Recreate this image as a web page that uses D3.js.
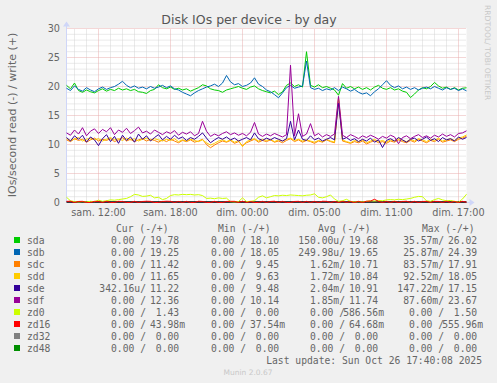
<!DOCTYPE html>
<html>
<head>
<meta charset="utf-8">
<script src="https://cdn.jsdelivr.net/npm/d3@7"></script>
<style>
body { margin: 0; background: #f0f0f0; }
svg text { font-family: "DejaVu Sans", sans-serif; fill: #666; }
svg text.mono { font-family: "DejaVu Sans Mono", monospace; white-space: pre; }
</style>
</head>
<body>
<div id="chart-area"></div>
<script>
// Series data: one sample every 20 minutes, from sam. 09:20 to dim. 17:40
let categories = ["sda", "sdb", "sdc", "sdd", "sde", "sdf", "zd0", "zd16", "zd32", "zd48"];
let colors = ["#00cc00", "#0066b3", "#ff8000", "#ffcc00", "#330099", "#990099", "#ccff00", "#ff0000", "#808080", "#008f00"];

let xTickHours = [0, 6, 12, 18, 24, 30];
let xTickLabels = ["sam. 12:00", "sam. 18:00", "dim. 00:00", "dim. 05:00", "dim. 11:00", "dim. 17:00"];
let yTicks = [0, 5, 10, 15, 20, 25, 30];

let sda = [20.2,19.6,20.6,19.3,19.0,19.4,19.1,18.9,19.3,19.6,
  19.2,19.5,19.3,19.7,19.4,19.6,19.3,19.5,19.1,19.0,
  18.8,19.3,19.5,20.3,19.8,19.6,19.9,19.5,19.7,19.4,
  19.6,19.2,19.5,19.8,20.3,20.1,19.6,19.4,19.3,19.0,
  19.4,19.6,19.8,20.0,19.7,19.5,19.9,20.1,19.6,19.3,
  19.1,18.9,19.2,18.6,19.1,20.2,20.6,20.0,20.3,19.9,
  26.0,20.2,19.9,20.3,19.8,20.0,19.7,19.4,18.5,20.5,
  19.7,20.0,19.6,19.9,19.5,19.8,19.4,19.9,20.2,19.7,
  19.5,19.8,19.4,19.6,19.2,19.0,18.1,18.7,19.4,19.8,
  19.6,20.0,20.7,20.1,19.7,19.9,19.5,19.8,19.4,19.7,19.78];
let sdb = [19.7,19.3,20.1,19.5,19.2,19.8,19.4,19.1,19.6,19.9,
  19.5,19.8,20.0,20.4,20.9,20.2,19.8,20.1,19.7,19.9,
  19.6,20.0,19.7,19.9,20.2,19.8,20.1,19.6,19.4,19.0,
  18.7,18.4,18.9,19.3,19.6,19.9,20.1,20.4,20.0,20.6,
  21.9,20.8,20.3,20.5,20.0,20.2,20.6,21.5,20.4,20.0,
  19.4,19.1,18.6,18.05,18.9,19.8,20.2,19.7,19.9,20.1,
  24.4,19.8,19.5,19.7,19.3,19.6,19.4,19.8,19.3,19.9,
  19.6,19.2,19.5,19.0,18.7,18.9,18.4,19.1,19.6,20.3,
  21.0,20.2,19.8,20.1,19.6,19.9,19.5,19.8,19.4,19.7,
  19.9,19.6,20.0,19.7,19.4,19.8,19.5,19.7,19.3,19.6,19.25];
let sdc = [10.8,10.5,11.0,10.7,10.9,10.4,10.8,11.1,10.6,10.9,
  10.7,11.0,10.5,10.8,11.2,10.6,10.9,10.5,10.8,11.0,
  10.6,10.9,10.7,10.4,10.8,10.5,10.9,10.6,10.3,10.7,
  10.5,10.8,10.4,10.6,10.9,10.0,9.45,9.9,10.3,10.6,
  10.4,10.7,10.2,10.5,9.8,10.3,10.6,10.9,10.4,10.7,
  10.5,10.8,10.4,10.6,10.3,10.7,11.0,10.5,10.8,10.4,
  10.7,10.5,10.2,10.6,10.4,10.8,10.5,10.3,17.91,10.6,
  10.4,10.2,10.5,10.3,10.6,10.1,10.4,10.7,10.3,10.5,
  10.2,10.6,10.4,10.8,10.5,10.3,10.7,10.4,10.9,10.6,
  10.3,10.7,10.5,10.9,10.4,10.6,10.8,10.5,10.9,11.1,11.42];
let sdd = [11.0,10.7,10.9,11.2,10.6,10.9,11.1,10.8,11.0,10.6,
  10.9,11.2,10.8,11.0,10.7,11.1,10.8,11.0,10.6,10.9,
  11.1,10.7,11.0,10.8,10.6,10.9,10.7,11.0,10.5,10.8,
  10.6,10.9,10.7,10.5,10.8,10.3,9.9,10.2,10.6,10.8,
  10.5,10.8,10.4,10.7,9.63,10.5,10.8,11.0,10.6,10.9,
  10.7,10.9,10.5,10.8,10.6,10.9,11.1,10.7,10.9,10.6,
  10.8,10.6,10.4,10.7,10.5,10.9,10.6,10.4,18.05,10.8,
  10.5,10.3,10.7,10.5,10.8,10.3,10.6,10.9,10.5,10.7,
  10.4,10.8,10.6,11.0,10.7,10.5,10.9,10.6,11.0,10.8,
  10.5,10.9,10.7,11.1,10.6,10.8,11.0,10.7,11.1,11.3,11.65];
let sde = [11.2,10.6,11.5,10.9,11.6,10.4,11.3,10.8,9.8,11.0,
  11.7,10.5,11.4,10.2,11.6,10.7,11.3,10.4,11.8,10.9,
  11.5,10.6,11.2,11.7,10.8,11.4,10.9,11.6,11.0,11.3,
  10.7,11.2,10.9,11.4,12.0,11.1,10.3,10.8,11.2,10.9,
  11.3,10.8,11.1,10.6,10.9,11.2,10.8,12.0,11.0,10.7,
  11.1,10.8,11.2,10.9,10.6,11.0,14.0,10.8,12.5,10.9,
  10.7,11.5,10.8,11.1,10.6,10.9,11.2,10.8,17.15,10.9,
  11.2,10.7,11.0,10.5,10.9,10.6,11.1,10.4,10.8,9.48,
  10.7,11.0,10.6,11.2,10.8,10.4,10.9,11.1,10.6,10.9,
  11.3,10.7,11.0,10.5,11.2,10.8,11.0,10.6,11.3,10.9,11.22];
let sdf = [12.0,11.6,12.5,11.8,12.9,11.5,12.3,12.7,11.9,12.6,
  12.2,12.9,11.7,12.5,12.1,12.8,11.9,12.4,13.0,12.0,
  12.3,11.8,12.5,12.1,11.7,12.2,11.9,12.4,11.6,12.1,
  11.8,12.2,11.5,11.9,14.0,12.3,11.4,11.8,11.5,11.9,
  12.2,11.7,12.0,11.6,11.9,11.5,12.1,13.8,11.8,11.4,
  11.8,11.5,11.9,11.6,11.3,11.7,23.67,11.5,15.3,11.4,
  11.8,13.6,11.5,11.9,11.3,11.7,11.4,11.8,18.3,11.6,
  11.2,11.7,11.4,11.0,11.5,11.2,11.6,11.3,10.9,11.4,
  11.1,11.6,11.3,10.14,11.2,11.5,11.0,11.4,11.7,11.2,
  11.5,11.1,11.6,11.3,11.8,11.4,11.7,11.3,11.9,12.0,12.36];
let zd0 = [0.9,0.3,0.15,0.1,0.15,0.1,0.2,0.15,0.4,0.2,
  0.3,0.45,0.4,0.5,0.6,0.7,1.0,1.4,1.3,1.05,
  1.1,1.25,0.8,0.9,0.5,0.7,1.2,1.35,1.3,1.4,
  1.35,1.4,1.3,1.35,1.2,0.7,0.75,0.65,0.8,0.7,
  0.75,0.15,0.1,0.15,0.8,0.15,0.2,0.3,0.9,1.15,
  0.8,1.0,1.2,1.15,1.25,1.2,1.3,1.25,1.2,1.15,
  1.25,1.3,1.5,0.9,0.8,1.0,1.3,0.6,0.2,0.3,
  0.55,0.2,0.1,0.15,0.1,0.2,0.3,0.25,0.35,0.3,
  0.45,0.5,0.45,0.55,0.5,0.6,0.7,0.9,1.05,1.0,
  0.3,0.2,0.5,0.7,0.45,0.3,0.35,0.2,0.05,0.6,1.43];
let zd16 = [0.2,0.22,0,0.18,0.2,0,0,0.2,0.18,0,
  0.22,0,0,0.2,0.18,0,0,0.2,0,0.18,
  0.22,0.2,0,0,0.18,0.22,0.2,0,0.18,0,
  0.2,0,0,0.22,0.18,0,0,0.2,0,0,
  0.18,0.2,0.2,0,0.22,0,0.18,0,0,0.2,
  0,0.18,0.22,0,0.2,0,0,0.18,0.2,0,
  0.2,0,0.18,0,0.22,0.2,0,0.18,0,0.2,
  0,0.18,0,0.2,0,0.22,0.25,0.556,0.2,0,
  0.18,0,0.2,0,0.18,0.22,0,0.2,0,0.18,
  0.2,0,0.2,0.18,0,0.22,0,0.18,0,0.2,0.044];

let plotted = [sda, sdb, sdc, sdd, sde, sdf, zd0, zd16];

// Legend values (read / write), as printed
let curRead  = ["0.00","0.00","0.00","0.00","342.16u","0.00","0.00","0.00","0.00","0.00"];
let curWrite = ["19.78","19.25","11.42","11.65","11.22","12.36","1.43","43.98m","0.00","0.00"];
let minRead  = ["0.00","0.00","0.00","0.00","0.00","0.00","0.00","0.00","0.00","0.00"];
let minWrite = ["18.10","18.05","9.45","9.63","9.48","10.14","0.00","37.54m","0.00","0.00"];
let avgRead  = ["150.00u","249.98u","1.62m","1.72m","2.04m","1.85m","0.00","0.00","0.00","0.00"];
let avgWrite = ["19.68","19.65","10.71","10.84","10.91","11.74","586.56m","64.68m","0.00","0.00"];
let maxRead  = ["35.57m","25.87m","83.57m","92.52m","147.22m","87.60m","0.00","0.00","0.00","0.00"];
let maxWrite = ["26.02","24.39","17.91","18.05","17.15","23.67","1.50","555.96m","0.00","0.00"];

let W = 497, H = 383;
let svg = d3.select("#chart-area").append("svg")
    .attr("width", W)
    .attr("height", H);

svg.append("rect").attr("width", W).attr("height", H).attr("fill", "#f0f0f0");

// Scales (hours after sam. 12:00)
let x = d3.scaleLinear().domain([-8/3, 92/3]).range([66.5, 466.5]);
let y = d3.scaleLinear().domain([0, 30]).range([202.5, 28.5]);
let hours = d3.range(sda.length).map(i => -8/3 + i/3);

svg.append("rect")
    .attr("x", x.range()[0]).attr("y", y(30) - 0.5)
    .attr("width", x.range()[1] - x.range()[0]).attr("height", y(0) - y(30) + 0.5)
    .attr("fill", "#ffffff");

// grid
let grid = svg.append("g");
let minorH = d3.range(1, 30).filter(v => v % 5 != 0);
let minorV = d3.range(-2, 31).filter(h => xTickHours.indexOf(h) < 0);
let minorCol = "#d4d4d4", majorCol = "#e9aeae";

grid.selectAll(".hmin").data(minorH).enter().append("line")
    .attr("x1", x.range()[0]).attr("x2", x.range()[1])
    .attr("y1", d => y(d)).attr("y2", d => y(d))
    .attr("stroke", minorCol).attr("stroke-dasharray", "1,1");
grid.selectAll(".vmin").data(minorV).enter().append("line")
    .attr("x1", d => Math.round(x(d) - 0.5) + 0.5).attr("x2", d => Math.round(x(d) - 0.5) + 0.5)
    .attr("y1", y(0)).attr("y2", y(30))
    .attr("stroke", minorCol).attr("stroke-dasharray", "1,1");
grid.selectAll(".hmaj").data(yTicks.slice(1)).enter().append("line")
    .attr("x1", x.range()[0]).attr("x2", x.range()[1])
    .attr("y1", d => y(d)).attr("y2", d => y(d))
    .attr("stroke", majorCol).attr("stroke-dasharray", "1,1");
grid.selectAll(".vmaj").data(xTickHours).enter().append("line")
    .attr("x1", d => Math.round(x(d) - 0.5) + 0.5).attr("x2", d => Math.round(x(d) - 0.5) + 0.5)
    .attr("y1", y(0)).attr("y2", y(30))
    .attr("stroke", majorCol).attr("stroke-dasharray", "1,1");

// axes (light blue, with arrows)
let axisCol = "#cfd6f8";
svg.append("line").attr("x1", x.range()[0]).attr("x2", x.range()[1] + 5)
    .attr("y1", y(0)).attr("y2", y(0)).attr("stroke", axisCol);
svg.append("line").attr("x1", x.range()[0]).attr("x2", x.range()[0])
    .attr("y1", y(0)).attr("y2", y(30) - 5).attr("stroke", axisCol);
svg.append("path")
    .attr("d", "M" + (x.range()[1] + 3) + "," + (y(0) - 3.5) + "L" + (x.range()[1] + 8) + "," + y(0) + "L" + (x.range()[1] + 3) + "," + (y(0) + 3.5) + "Z")
    .attr("fill", axisCol);
svg.append("path")
    .attr("d", "M" + (x.range()[0] - 3.5) + "," + (y(30) - 2) + "L" + x.range()[0] + "," + (y(30) - 7) + "L" + (x.range()[0] + 3.5) + "," + (y(30) - 2) + "Z")
    .attr("fill", axisCol);

// tick labels
svg.selectAll(".ylab").data(yTicks).enter().append("text")
    .attr("x", 60).attr("y", d => y(d) + 3.5)
    .attr("text-anchor", "end").style("font-size", "9.7px")
    .text(d => d);
svg.selectAll(".xlab").data(xTickHours).enter().append("text")
    .attr("x", d => x(d)).attr("y", 216)
    .attr("text-anchor", "middle").style("font-size", "9.7px")
    .text((d, i) => xTickLabels[i]);

// zero line
svg.append("line").attr("x1", x.range()[0]).attr("x2", x.range()[1])
    .attr("y1", y(0) - 0.5).attr("y2", y(0) - 0.5).attr("stroke", "#000").attr("stroke-width", 1.6);

// series
let line = d3.line().x((d, i) => x(hours[i])).y(d => y(d));
plotted.forEach(function(s, k) {
    svg.append("path")
        .datum(s)
        .attr("d", line)
        .attr("fill", "none")
        .attr("stroke", colors[k])
        .attr("stroke-width", 1);
});

// titles
svg.append("text").attr("x", 249).attr("y", 24).attr("text-anchor", "middle")
    .style("font-size", "12.5px").style("fill", "#555")
    .text("Disk IOs per device - by day");
svg.append("text").attr("transform", "translate(16,115)rotate(-90)")
    .attr("text-anchor", "middle").style("font-size", "11px")
    .text("IOs/second read (-) / write (+)");
svg.append("text").attr("transform", "translate(485,5)rotate(90)")
    .style("font-size", "7.6px").style("fill", "#c8c8c8")
    .text("RRDTOOL/ TOBI OETIKER");

// legend
let charW = 5.85;
let slashEnd = [146, 246, 345, 444];
let writeEnd = [185, 285, 384, 483];
let headStart = [116, 218, 318, 422];
let heads = ["Cur (-/+)", "Min (-/+)", "Avg (-/+)", "Max (-/+)"];
let cols = [[curRead, curWrite], [minRead, minWrite], [avgRead, avgWrite], [maxRead, maxWrite]];
let hasUnit = v => /[a-z]$/i.test(v);

let leg = svg.append("g").attr("xml:space", "preserve");
heads.forEach(function(h, c) {
    leg.append("text").attr("class", "mono").attr("x", headStart[c]).attr("y", 231.5)
        .style("font-size", "9.7px").text(h);
});
categories.forEach(function(name, i) {
    let cy = 240 + 12 * i;
    leg.append("rect").attr("x", 14).attr("y", cy - 3).attr("width", 6).attr("height", 6)
        .attr("fill", colors[i]);
    leg.append("text").attr("class", "mono").attr("x", 27).attr("y", cy + 3.5)
        .style("font-size", "9.7px").text(name);
    cols.forEach(function(col, c) {
        let r = col[0][i], w = col[1][i];
        leg.append("text").attr("class", "mono").attr("x", slashEnd[c]).attr("y", cy + 3.5)
            .attr("text-anchor", "end").style("font-size", "9.7px")
            .text(r + (hasUnit(r) ? "" : " ") + "/");
        leg.append("text").attr("class", "mono").attr("x", writeEnd[c] - (hasUnit(w) ? 0 : charW)).attr("y", cy + 3.5)
            .attr("text-anchor", "end").style("font-size", "9.7px")
            .text(w);
    });
});
leg.append("text").attr("class", "mono").attr("x", 482).attr("y", 363.5)
    .attr("text-anchor", "end").style("font-size", "9.7px")
    .text("Last update: Sun Oct 26 17:40:08 2025");
svg.append("text").attr("x", 248).attr("y", 374.5).attr("text-anchor", "middle")
    .style("font-size", "7.5px").style("fill", "#c8c8c8")
    .text("Munin 2.0.67");
</script>
</body>
</html>
